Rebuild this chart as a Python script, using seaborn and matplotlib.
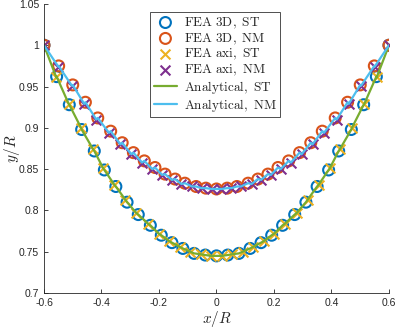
import numpy as np
import matplotlib
matplotlib.use("Agg")
import matplotlib.pyplot as plt
from matplotlib.ticker import FuncFormatter
import seaborn as sns

# values (left half, mirrored about x = 0)
st_3d_x = [-0.600, -0.556, -0.512, -0.469, -0.425, -0.390, -0.350, -0.311,
           -0.272, -0.230, -0.192, -0.155, -0.117, -0.078, -0.039, 0.000]
st_3d_y = [1.000, 0.962, 0.928, 0.898, 0.872, 0.849, 0.829, 0.810,
           0.795, 0.782, 0.770, 0.761, 0.754, 0.748, 0.746, 0.745]

st_axi_x = [-0.600, -0.557, -0.514, -0.471, -0.429, -0.394, -0.355, -0.317,
            -0.279, -0.238, -0.201, -0.165, -0.128, -0.091, -0.055, -0.018]
st_axi_y = [1.000, 0.961, 0.929, 0.900, 0.874, 0.851, 0.831, 0.813,
            0.797, 0.784, 0.772, 0.763, 0.756, 0.750, 0.747, 0.745]

nm_3d_x = [-0.600, -0.549, -0.500, -0.456, -0.413, -0.368, -0.328, -0.289,
           -0.251, -0.214, -0.179, -0.144, -0.110, -0.071, -0.037, 0.000]
nm_3d_y = [1.000, 0.975, 0.952, 0.931, 0.912, 0.896, 0.882, 0.870,
           0.860, 0.852, 0.844, 0.838, 0.833, 0.829, 0.827, 0.826]

nm_axi_x = [-0.600, -0.550, -0.503, -0.460, -0.418, -0.374, -0.334, -0.296,
            -0.259, -0.223, -0.189, -0.155, -0.122, -0.085, -0.052, -0.017]
nm_axi_y = [1.000, 0.974, 0.951, 0.929, 0.910, 0.894, 0.880, 0.868,
            0.858, 0.850, 0.843, 0.837, 0.832, 0.829, 0.827, 0.826]

x_ticks = [-0.6, -0.4, -0.2, 0, 0.2, 0.4, 0.6]
y_ticks = [0.7, 0.75, 0.8, 0.85, 0.9, 0.95, 1.0, 1.05]


def mirror(xs, ys, has_center):
    xs = np.array(xs)
    ys = np.array(ys)
    if has_center:
        return np.r_[xs, -xs[-2::-1]], np.r_[ys, ys[-2::-1]]
    return np.r_[xs, -xs[::-1]], np.r_[ys, ys[::-1]]


st3x, st3y = mirror(st_3d_x, st_3d_y, True)
stax, stay = mirror(st_axi_x, st_axi_y, False)
nm3x, nm3y = mirror(nm_3d_x, nm_3d_y, True)
nmax, nmay = mirror(nm_axi_x, nm_axi_y, False)

# analytical curves pass through all read points
st_line = sorted(zip(np.r_[st3x, stax], np.r_[st3y, stay]))
nm_line = sorted(zip(np.r_[nm3x, nmax], np.r_[nm3y, nmay]))

sns.set_style("white")
plt.rcParams["mathtext.fontset"] = "cm"
plt.rcParams["font.family"] = ["Liberation Sans", "DejaVu Sans"]

fig = plt.figure(figsize=(3.97, 3.30), dpi=100)
ax = fig.add_axes([0.1108, 0.112, 0.869, 0.876])

blue, orange, yellow, purple = "#0072BD", "#D95319", "#EDB120", "#7E2F8E"
green, cyan = "#77AC30", "#4DBEEE"

ms = 62
sns.scatterplot(x=st3x, y=st3y, marker="o", s=ms, facecolor="none",
                edgecolor=blue, linewidth=1.5, ax=ax, label=r"$\mathrm{FEA\ 3D,\ ST}$")
sns.scatterplot(x=nm3x, y=nm3y, marker="o", s=ms, facecolor="none",
                edgecolor=orange, linewidth=1.5, ax=ax, label=r"$\mathrm{FEA\ 3D,\ NM}$")
sns.scatterplot(x=stax, y=stay, marker="x", s=50, color=yellow,
                linewidth=1.5, ax=ax, label=r"$\mathrm{FEA\ axi,\ ST}$")
sns.scatterplot(x=nmax, y=nmay, marker="x", s=50, color=purple,
                linewidth=1.5, ax=ax, label=r"$\mathrm{FEA\ axi,\ NM}$")
sns.lineplot(x=[p[0] for p in st_line], y=[p[1] for p in st_line], sort=False,
             color=green, linewidth=1.6, ax=ax, label=r"$\mathrm{Analytical,\ ST}$")
sns.lineplot(x=[p[0] for p in nm_line], y=[p[1] for p in nm_line], sort=False,
             color=cyan, linewidth=1.6, ax=ax, label=r"$\mathrm{Analytical,\ NM}$")

ax.set_xlim(-0.6, 0.6)
ax.set_ylim(0.7, 1.05)
ax.set_xticks(x_ticks)
ax.set_yticks(y_ticks)
ax.xaxis.set_major_formatter(FuncFormatter(lambda v, p: "%g" % round(v, 2)))
ax.yaxis.set_major_formatter(FuncFormatter(lambda v, p: "%g" % round(v, 2)))
ax.tick_params(direction="in", length=3, width=0.6, colors="#262626",
               labelsize=7.5, bottom=True, left=True)
for side in ["top", "right"]:
    ax.spines[side].set_visible(False)
for side in ["left", "bottom"]:
    ax.spines[side].set_color("#262626")
    ax.spines[side].set_linewidth(0.6)

ax.set_xlabel(r"$x/R$", fontsize=11, labelpad=1)
ax.set_ylabel(r"$y/R$", fontsize=11)
ax.yaxis.set_label_coords(-0.063, 0.5)

leg = ax.legend(loc="upper right", bbox_to_anchor=(0.684, 0.972), fontsize=9.5,
                frameon=True, fancybox=False, edgecolor="black",
                labelspacing=0.05, handlelength=1.8, handletextpad=0.5,
                borderpad=0.25, borderaxespad=0)
leg.get_frame().set_linewidth(0.6)

fig.savefig("out.png", dpi=100)
